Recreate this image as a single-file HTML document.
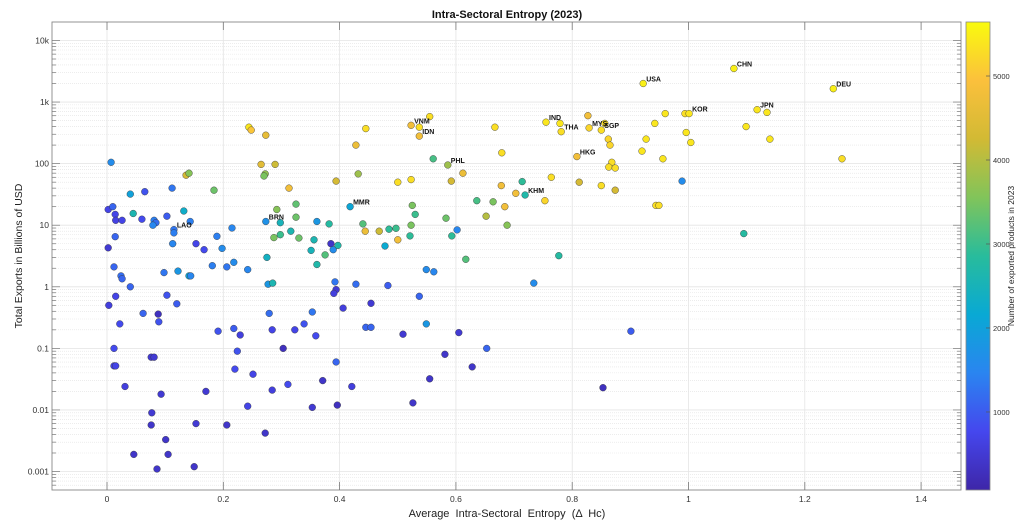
<!DOCTYPE html>
<html><head><meta charset="utf-8"><style>
html,body{margin:0;padding:0;background:#fff;}
svg{display:block;font-family:"Liberation Sans",Arial,sans-serif;}
</style></head><body>
<svg id="chart" width="1024" height="525" viewBox="0 0 1024 525" xmlns="http://www.w3.org/2000/svg">
<defs>
<linearGradient id="parula" x1="0" y1="1" x2="0" y2="0">
<stop offset="0" stop-color="#3e26a8"/><stop offset="0.125" stop-color="#4547ee"/><stop offset="0.25" stop-color="#2a85f0"/><stop offset="0.375" stop-color="#09a9d4"/><stop offset="0.5" stop-color="#28bc9c"/><stop offset="0.625" stop-color="#81c45a"/><stop offset="0.75" stop-color="#d2ba34"/><stop offset="0.875" stop-color="#fbc03c"/><stop offset="1" stop-color="#f9fb0e"/>
</linearGradient>
</defs>
<g id="grid"></g>
<g id="points"></g>
<g id="labels"></g>
<g id="axes"></g>
<text x="507" y="18" text-anchor="middle" font-size="11" font-weight="bold" fill="#111">Intra-Sectoral Entropy (2023)</text>
<text x="507" y="517" text-anchor="middle" font-size="11" fill="#222" xml:space="preserve">Average  Intra-Sectoral  Entropy  (Δ  Hc)</text>
<text transform="translate(22,256) rotate(-90)" text-anchor="middle" font-size="10.5" fill="#222">Total Exports in Billions of USD</text>
<rect x="966" y="22" width="24" height="468" fill="url(#parula)" stroke="#888" stroke-width="0.8"/>
<g id="cbticks"></g>
<text transform="translate(1014,256) rotate(-90)" text-anchor="middle" font-size="8.5" fill="#222">Number of exported products in 2023</text>
</svg>
<script>
const xs=[.007,.002,.010,.014,.015,.026,.040,.045,.065,.060,.014,.002,.081,.084,.079,.103,.112,.132,.136,.141,.143,.115,.115,.113,.153,.167,.184,.189,.198,.215,.244,.248,.273,.265,.289,.272,.270,.313,.394,.292,.325,.273,.298,.325,.316,.287,.298,.330,.361,.382,.356,.351,.385,.389,.397,.375,.275,.445,.428,.432,.418,.440,.444,.468,.485,.497,.500,.478,.500,.523,.523,.537,.555,.537,.525,.530,.523,.521,.561,.586,.592,.612,.583,.593,.602,.617,.549,.562,.667,.679,.636,.664,.652,.688,.684,.678,.703,.714,.719,.753,.764,.777,.755,.779,.781,.808,.812,.827,.829,.850,.856,.862,.865,.868,.863,.874,.850,.874,.922,.920,.927,.428,.483,.454,.406,.537,.445,.454,.509,.549,.605,.653,.581,.628,.394,.555,.421,.396,.526,.734,.901,.853,1.078,1.249,.960,.942,.956,.994,1.001,.996,1.004,.989,.944,.949,1.099,1.118,1.135,1.140,1.264,1.095,.012,.024,.026,.040,.098,.122,.141,.144,.181,.206,.218,.242,.277,.285,.392,.394,.390,.361,.003,.015,.103,.120,.062,.088,.089,.022,.191,.218,.229,.279,.284,.323,.339,.353,.359,.303,.012,.012,.015,.076,.081,.224,.220,.251,.311,.371,.031,.093,.170,.284,.242,.353,.077,.076,.153,.206,.272,.101,.046,.105,.150,.086];
const exportsB=[105,18,20,15,12,12,32,15.5,35,12.5,6.5,4.3,12,11,10,14,40,17,65,70,11.5,8.5,7.5,5,5,4,37,6.6,4.2,9,390,350,290,97,97,68,63,40,52,18,22,11.5,11,13.5,8,6.3,7,6.2,11.5,10.5,5.8,3.9,5,4,4.7,3.3,3,370,200,68,20,10.5,8,8,8.6,8.9,5.8,4.6,50,55,420,390,580,280,21,15,10,6.7,120,95,52,70,13,6.7,8.4,2.8,1.9,1.75,390,150,25,24,14,10,20,44,33,51,31,25,60,3.2,470,450,330,130,50,600,380,350,450,250,200,105,88,85,44,37,2000,160,250,1.1,1.05,.54,.45,.7,.22,.22,.17,.25,.18,.1,.08,.05,.06,.032,.024,.012,.013,1.15,.19,.023,3500,1650,650,450,120,650,650,320,220,52,21,21,400,750,680,250,120,7.3,2.1,1.5,1.35,1.0,1.7,1.8,1.5,1.5,2.2,2.1,2.5,1.9,1.1,1.15,1.2,.9,.78,2.3,.5,.7,.73,.53,.37,.36,.27,.25,.19,.21,.165,.37,.2,.2,.25,.39,.16,.1,.1,.052,.052,.072,.072,.09,.046,.038,.026,.03,.024,.018,.02,.021,.0115,.011,.009,.0057,.006,.0057,.0042,.0033,.0019,.0019,.0012,.0011];
const products=[1600,700,1100,700,650,700,2000,2600,900,800,1100,500,1400,1200,1500,1000,1300,2300,4300,3600,1400,1300,1400,1500,700,800,3400,1400,1600,1500,5400,5000,4600,4500,4200,3700,3500,4800,4300,3600,3300,1700,2500,3400,2600,3500,3000,3400,1800,2800,2600,2500,400,1600,2700,3200,2400,5300,4700,3800,2100,3200,4700,4200,2900,3000,4800,2200,5300,5300,4800,5300,5300,4800,3500,3000,3500,2900,3100,3800,4300,4700,3400,2900,1500,3200,1600,1500,5300,5300,3100,3500,4000,3600,4800,4800,4800,2900,2700,5200,5300,2800,5400,5400,5300,4800,4300,4800,5200,5300,5300,5200,5200,5300,5300,5300,5300,4300,5500,5400,5400,1200,1000,500,600,1100,1100,1100,500,1800,500,1100,400,400,1100,400,600,300,400,1600,1000,300,5500,5500,5400,5400,5400,5300,5400,5400,5400,1600,5300,5300,5400,5400,5400,5400,5300,2800,1100,1200,1100,1100,1300,1800,2100,1500,1400,1300,1600,1500,1800,2600,1300,500,600,2700,600,700,900,1000,1100,300,900,800,900,1000,600,1200,700,700,900,1300,800,300,800,700,700,500,500,900,800,700,800,400,600,500,500,600,700,500,500,400,500,400,400,400,400,400,400,400];
const labelCodes=["USA","CHN","DEU","JPN","KOR","IND","THA","MYS","SGP","HKG","VNM","IDN","PHL","KHM","MMR","BRN","LAO"];
const labelIdx=[118,142,143,155,148,102,104,108,109,105,70,73,79,98,60,41,21];
const xTicks=[0,0.2,0.4,0.6,0.8,1,1.2,1.4];
const xTickLabels=["0","0.2","0.4","0.6","0.8","1","1.2","1.4"];
const yTicks=[-3,-2,-1,0,1,2,3,4];
const yTickLabels=["0.001","0.01","0.1","1","10","100","1k","10k"];
const cbTicks=[1000,2000,3000,4000,5000];

const L=52,R=961,T=22,B=490;
const X0=-0.0946,X1=1.4686;
const Ylo=-3.3,Yhi=4.3;
const C0=71,C1=5643;
const NS="http://www.w3.org/2000/svg";
function sx(v){return L+(v-X0)/(X1-X0)*(R-L);}
function sy(v){return B-(Math.log10(v)-Ylo)/(Yhi-Ylo)*(B-T);}
function syl(l){return B-(l-Ylo)/(Yhi-Ylo)*(B-T);}
function sc(v){return B-(v-C0)/(C1-C0)*(B-T);}
const stops=[[0,[62,38,168]],[.125,[69,71,238]],[.25,[42,133,240]],[.375,[9,169,212]],[.5,[40,188,156]],[.625,[129,196,90]],[.75,[210,186,52]],[.875,[251,192,60]],[1,[249,251,14]]];
function parula(n){let t=Math.max(0,Math.min(1,(n-C0)/(C1-C0)));for(let i=1;i<stops.length;i++){if(t<=stops[i][0]){const a=stops[i-1],b=stops[i];const f=(t-a[0])/(b[0]-a[0]);const c=a[1].map((v,k)=>Math.round(v+(b[1][k]-v)*f));return `rgb(${c[0]},${c[1]},${c[2]})`;}}return "rgb(249,251,14)";}
function mk(tag,attrs,parent){const e=document.createElementNS(NS,tag);for(const k in attrs)e.setAttribute(k,attrs[k]);parent.appendChild(e);return e;}

const grid=document.getElementById('grid');
for(let d=Math.floor(Ylo);d<=Math.ceil(Yhi);d++){
  for(let m=2;m<=9;m++){const l=d+Math.log10(m);if(l<Ylo||l>Yhi)continue;const y=syl(l);
    const g=mk('line',{x1:L,x2:R,y1:y,y2:y,stroke:'#e2e2e2','stroke-width':0.6,'stroke-dasharray':'1,1'},grid);
    
    }
}
yTicks.forEach(t=>{const y=syl(t);const g=mk('line',{x1:L,x2:R,y1:y,y2:y,stroke:'#e4e4e4','stroke-width':0.8},grid);
  
  });
xTicks.forEach(t=>{const x=sx(t);const g=mk('line',{x1:x,x2:x,y1:T,y2:B,stroke:'#e4e4e4','stroke-width':0.8},grid);
  
  });

const pts=document.getElementById('points');
xs.forEach((x,i)=>{const c=mk('circle',{cx:sx(x).toFixed(1),cy:sy(exportsB[i]).toFixed(1),r:3.4,fill:parula(products[i]),stroke:'#333','stroke-width':0.5,'stroke-opacity':0.8},pts);
  
  });

const lab=document.getElementById('labels');
labelCodes.forEach((code,k)=>{const i=labelIdx[k];const t=mk('text',{x:(sx(xs[i])+3).toFixed(1),y:(sy(exportsB[i])-2).toFixed(1),'font-size':7,'font-weight':'bold',fill:'#111'},lab);t.textContent=code;
  
  });

const ax=document.getElementById('axes');
const box=mk('rect',{x:L,y:T,width:R-L,height:B-T,fill:'none',stroke:'#888','stroke-width':0.9},ax);


xTicks.forEach((t,k)=>{const x=sx(t);
  mk('line',{x1:x,x2:x,y1:B,y2:B-8,stroke:'#777','stroke-width':0.8},ax);
  mk('line',{x1:x,x2:x,y1:T,y2:T+8,stroke:'#777','stroke-width':0.8},ax);
  const tx=mk('text',{x:x,y:B+12,'text-anchor':'middle','font-size':8.5,fill:'#333'},ax);tx.textContent=xTickLabels[k];
  
  });
for(let d=Math.floor(Ylo);d<=Math.ceil(Yhi);d++){for(let m=1;m<=9;m++){const l=d+Math.log10(m);if(l<Ylo||l>Yhi)continue;const y=syl(l);const len=m===1?8:4;
  mk('line',{x1:L,x2:L+len,y1:y,y2:y,stroke:'#777','stroke-width':0.7},ax);
  mk('line',{x1:R,x2:R-len,y1:y,y2:y,stroke:'#777','stroke-width':0.7},ax);}}
yTicks.forEach((t,k)=>{const tx=mk('text',{x:L-3,y:syl(t)+3,'text-anchor':'end','font-size':8.5,fill:'#333'},ax);tx.textContent=yTickLabels[k];
  
  });

const cb=document.getElementById('cbticks');
cbTicks.forEach(v=>{const y=sc(v);mk('line',{x1:990,x2:986,y1:y,y2:y,stroke:'#555','stroke-width':0.7},cb);
  const tx=mk('text',{x:993,y:y+3,'font-size':7.5,fill:'#333'},cb);tx.textContent=String(v);
  
  });
</script>
</body></html>
